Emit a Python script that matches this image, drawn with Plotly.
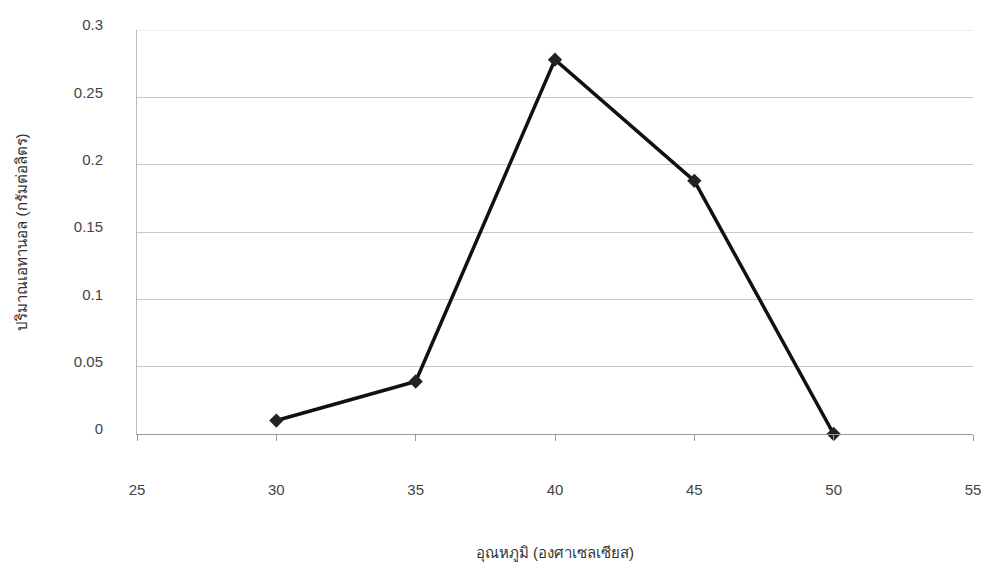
import plotly.graph_objects as go

# Temperature (°C) vs. ethanol yield (g/L)
temperature = [30, 35, 40, 45, 50]
ethanol = [0.01, 0.039, 0.278, 0.188, 0.0]

x_ticks = [25, 30, 35, 40, 45, 50, 55]
y_ticks = [0, 0.05, 0.1, 0.15, 0.2, 0.25, 0.3]
y_tick_text = ["0", "0.05", "0.1", "0.15", "0.2", "0.25", "0.3"]

font_family = "Liberation Sans, Arial, sans-serif"

fig = go.Figure()
fig.add_trace(go.Scatter(
    x=temperature,
    y=ethanol,
    mode="lines+markers",
    line=dict(color="#111111", width=3.5),
    marker=dict(symbol="diamond", size=11, color="#222222"),
    showlegend=False,
    cliponaxis=False,
))

# light gridline along the top of the plot area
fig.add_hline(y=0.3, line=dict(color="#dddddd", width=1))

fig.update_layout(
    width=987,
    height=563,
    margin=dict(l=137, r=14, t=30, b=129, autoexpand=False),
    paper_bgcolor="white",
    plot_bgcolor="white",
    font=dict(family=font_family, size=14, color="#444444"),
    xaxis=dict(
        range=[25, 55],
        tickvals=x_ticks,
        ticktext=[str(v) for v in x_ticks],
        automargin=False,
        showgrid=False,
        zeroline=False,
        showline=True,
        linecolor="#999999",
        linewidth=1,
        ticks="outside",
        ticklen=6,
        tickcolor="#999999",
        ticklabelstandoff=36,
        tickfont=dict(size=15, color="#444444"),
        title=dict(text="อุณหภูมิ (องศาเซลเซียส)", font=dict(size=15, color="#333333"), standoff=50),
    ),
    yaxis=dict(
        range=[0, 0.3],
        tickvals=y_ticks,
        ticktext=y_tick_text,
        automargin=False,
        showgrid=True,
        gridcolor="#c8c8c8",
        gridwidth=1,
        zeroline=False,
        showline=True,
        linecolor="#bbbbbb",
        ticks="",
        ticklabelstandoff=30,
        ticklabelshift=-5,
        tickfont=dict(size=15, color="#444444"),
        title=dict(text="ปริมาณเอทานอล (กรัมต่อลิตร)", font=dict(size=15, color="#333333"), standoff=42),
    ),
)

fig.write_html("out.html")
